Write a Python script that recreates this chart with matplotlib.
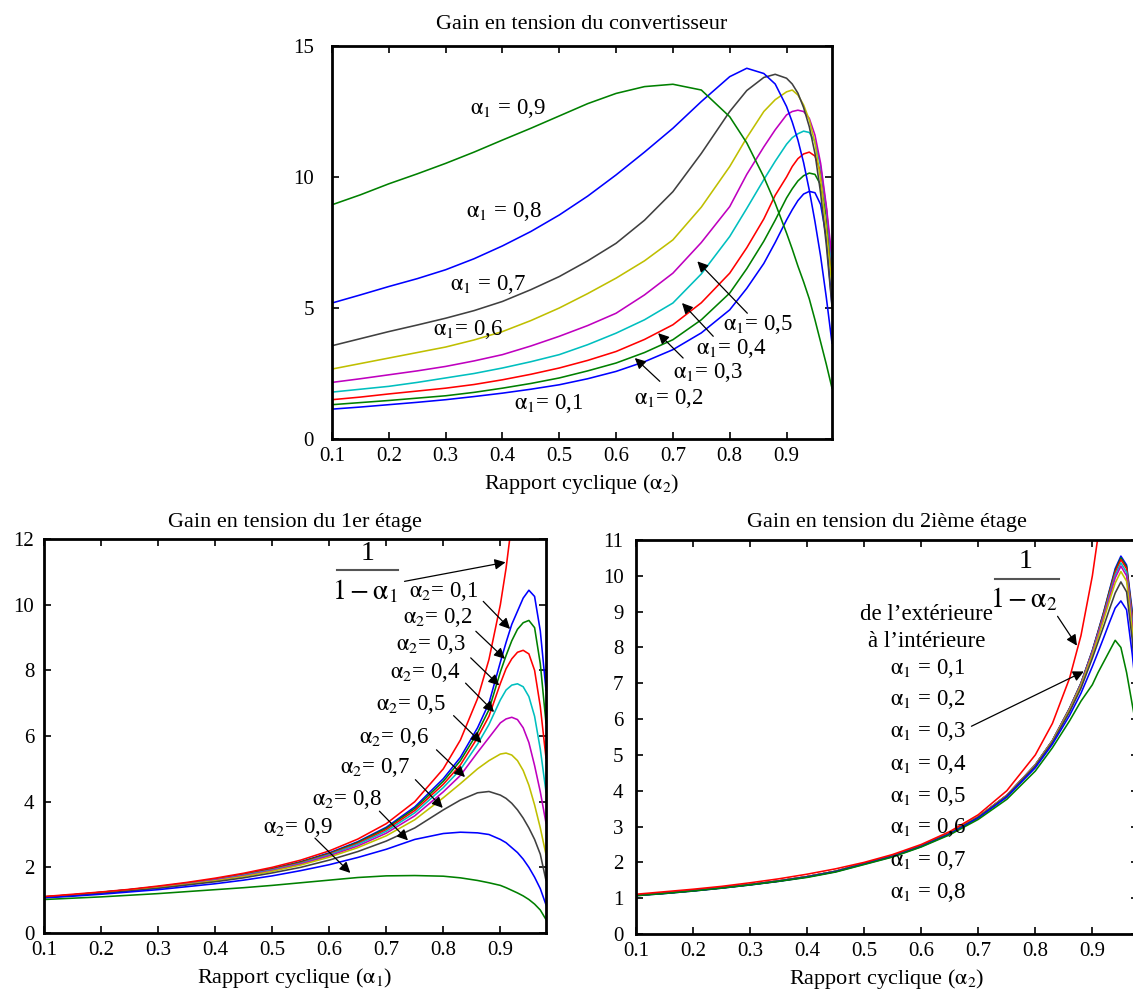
import matplotlib
matplotlib.use("Agg")
import matplotlib.pyplot as plt

plt.rcParams['font.family'] = ['Liberation Serif', 'DejaVu Serif']
plt.rcParams['mathtext.fontset'] = 'stix'

# ---------------- data ----------------
X = [0.10, 0.15, 0.20, 0.25, 0.30, 0.35, 0.40, 0.45, 0.50, 0.55, 0.60, 0.65, 0.70, 0.75,
     0.80, 0.83, 0.86, 0.88, 0.90, 0.91, 0.92, 0.93, 0.94, 0.95, 0.96, 0.97, 0.98]

# Top: converter gain vs alpha2 for alpha1 = 0.1 ... 0.9
alpha1_values = ["0,1", "0,2", "0,3", "0,4", "0,5", "0,6", "0,7", "0,8", "0,9"]
top_a1_01 = [1.14, 1.22, 1.31, 1.40, 1.50, 1.62, 1.75, 1.90, 2.07, 2.30, 2.58, 2.95, 3.41, 4.05,
             4.93, 5.75, 6.70, 7.50, 8.36, 8.75, 9.10, 9.35, 9.45, 9.40, 8.95, 7.70, 5.10]
top_a1_02 = [1.31, 1.39, 1.47, 1.56, 1.65, 1.78, 1.94, 2.12, 2.33, 2.60, 2.90, 3.30, 3.79, 4.55,
             5.57, 6.50, 7.55, 8.35, 9.20, 9.55, 9.85, 10.05, 10.15, 10.10, 9.70, 8.50, 6.10]
top_a1_03 = [1.50, 1.60, 1.72, 1.83, 1.94, 2.08, 2.26, 2.47, 2.71, 3.00, 3.34, 3.80, 4.36, 5.20,
             6.33, 7.30, 8.40, 9.30, 10.00, 10.40, 10.70, 10.88, 10.95, 10.80, 10.20, 8.80, 6.40]
top_a1_04 = [1.79, 1.90, 2.01, 2.16, 2.33, 2.50, 2.71, 2.95, 3.22, 3.60, 4.04, 4.55, 5.19, 6.30,
             7.73, 8.80, 9.90, 10.60, 11.25, 11.50, 11.65, 11.75, 11.70, 11.35, 10.40, 8.80, 6.60]
top_a1_05 = [2.16, 2.30, 2.45, 2.60, 2.77, 2.98, 3.22, 3.55, 3.92, 4.33, 4.80, 5.50, 6.33, 7.50,
             8.87, 10.10, 11.15, 11.80, 12.37, 12.50, 12.55, 12.50, 12.24, 11.60, 10.52, 8.90, 6.90]
top_a1_06 = [2.67, 2.88, 3.09, 3.30, 3.51, 3.78, 4.10, 4.52, 5.00, 5.55, 6.14, 6.80, 7.60, 8.85,
             10.40, 11.50, 12.50, 12.95, 13.25, 13.32, 13.13, 12.75, 12.18, 11.30, 9.89, 8.00, 5.82]
top_a1_07 = [3.56, 3.83, 4.10, 4.35, 4.61, 4.90, 5.25, 5.70, 6.20, 6.80, 7.47, 8.35, 9.44, 10.90,
             12.50, 13.30, 13.80, 13.92, 13.77, 13.55, 13.20, 12.65, 11.92, 10.90, 9.38, 7.40, 5.06]
top_a1_08 = [5.19, 5.50, 5.82, 6.12, 6.46, 6.88, 7.37, 7.92, 8.55, 9.27, 10.08, 10.95, 11.86, 12.88,
             13.83, 14.15, 13.95, 13.55, 12.69, 12.10, 11.41, 10.55, 9.50, 8.30, 6.97, 5.40, 3.66]
top_a1_09 = [8.94, 9.32, 9.74, 10.12, 10.52, 10.95, 11.41, 11.86, 12.33, 12.80, 13.19, 13.45, 13.54, 13.32,
             12.30, 11.30, 10.00, 9.00, 7.86, 7.25, 6.60, 6.00, 5.35, 4.55, 3.70, 2.85, 1.94]
top_series = [top_a1_01, top_a1_02, top_a1_03, top_a1_04, top_a1_05,
              top_a1_06, top_a1_07, top_a1_08, top_a1_09]

# Ideal gain 1/(1-alpha)
X_IDEAL = [0.10, 0.15, 0.20, 0.25, 0.30, 0.35, 0.40, 0.45, 0.50, 0.55, 0.60, 0.65, 0.70, 0.75,
           0.80, 0.83, 0.86, 0.88, 0.90, 0.91, 0.92]
ideal_gain = [1.11, 1.18, 1.25, 1.33, 1.43, 1.54, 1.67, 1.82, 2.00, 2.22, 2.50, 2.86, 3.33, 4.00,
              5.00, 5.88, 7.14, 8.33, 10.00, 11.11, 12.50]

# Bottom left: 1st stage gain vs alpha1 for alpha2 = 0.1 ... 0.9
alpha2_values = ["0,1", "0,2", "0,3", "0,4", "0,5", "0,6", "0,7", "0,8", "0,9"]
bl_a2_01 = [1.10, 1.16, 1.24, 1.32, 1.41, 1.52, 1.64, 1.79, 1.96, 2.17, 2.44, 2.78, 3.22, 3.84,
            4.70, 5.35, 6.25, 7.00, 8.25, 8.85, 9.40, 9.80, 10.20, 10.44, 10.25, 9.20, 7.40]
bl_a2_02 = [1.10, 1.16, 1.24, 1.32, 1.41, 1.51, 1.63, 1.78, 1.95, 2.16, 2.42, 2.76, 3.19, 3.79,
            4.62, 5.25, 6.10, 6.80, 7.95, 8.45, 8.90, 9.25, 9.45, 9.52, 9.30, 8.20, 6.40]
bl_a2_03 = [1.10, 1.16, 1.23, 1.31, 1.40, 1.51, 1.63, 1.77, 1.94, 2.14, 2.40, 2.73, 3.15, 3.73,
            4.53, 5.12, 5.95, 6.60, 7.60, 8.05, 8.35, 8.55, 8.61, 8.50, 8.00, 6.90, 5.33]
bl_a2_04 = [1.09, 1.15, 1.23, 1.31, 1.40, 1.50, 1.62, 1.76, 1.92, 2.12, 2.38, 2.70, 3.10, 3.66,
            4.43, 4.98, 5.75, 6.35, 7.10, 7.40, 7.55, 7.59, 7.50, 7.20, 6.60, 5.60, 4.30]
bl_a2_05 = [1.09, 1.15, 1.22, 1.30, 1.39, 1.49, 1.61, 1.74, 1.90, 2.10, 2.35, 2.65, 3.04, 3.57,
            4.30, 4.80, 5.50, 5.95, 6.40, 6.52, 6.57, 6.50, 6.25, 5.80, 5.10, 4.30, 3.35]
bl_a2_06 = [1.09, 1.15, 1.22, 1.30, 1.38, 1.48, 1.59, 1.72, 1.88, 2.07, 2.31, 2.60, 2.96, 3.45,
            4.12, 4.55, 5.00, 5.25, 5.45, 5.48, 5.42, 5.25, 4.95, 4.50, 3.90, 3.20, 2.39]
bl_a2_07 = [1.08, 1.14, 1.21, 1.28, 1.36, 1.46, 1.56, 1.68, 1.83, 2.00, 2.22, 2.48, 2.80, 3.20,
            3.75, 4.05, 4.27, 4.31, 4.20, 4.10, 3.95, 3.75, 3.50, 3.20, 2.85, 2.40, 1.60]
bl_a2_08 = [1.07, 1.12, 1.18, 1.25, 1.32, 1.41, 1.50, 1.61, 1.74, 1.90, 2.08, 2.30, 2.55, 2.85,
            3.03, 3.07, 3.05, 3.00, 2.85, 2.75, 2.60, 2.45, 2.25, 2.00, 1.70, 1.35, 0.86]
bl_a2_09 = [1.02, 1.06, 1.10, 1.15, 1.20, 1.26, 1.32, 1.38, 1.45, 1.53, 1.61, 1.69, 1.74, 1.75,
            1.73, 1.68, 1.60, 1.53, 1.45, 1.38, 1.30, 1.22, 1.13, 1.02, 0.88, 0.70, 0.41]
bl_series = [bl_a2_01, bl_a2_02, bl_a2_03, bl_a2_04, bl_a2_05,
             bl_a2_06, bl_a2_07, bl_a2_08, bl_a2_09]

# Bottom right: 2nd stage gain vs alpha2 for alpha1 = 0.1 ... 0.9
br_a1_01 = [1.08, 1.14, 1.21, 1.29, 1.38, 1.48, 1.60, 1.75, 1.97, 2.18, 2.46, 2.82, 3.27, 3.87,
            4.72, 5.40, 6.30, 7.00, 7.92, 8.45, 9.00, 9.60, 10.20, 10.55, 10.30, 9.00, 6.80]
br_a1_02 = [1.08, 1.14, 1.21, 1.29, 1.38, 1.48, 1.60, 1.75, 1.97, 2.18, 2.46, 2.82, 3.27, 3.87,
            4.72, 5.40, 6.30, 7.00, 7.90, 8.43, 8.98, 9.57, 10.15, 10.50, 10.25, 8.90, 6.70]
br_a1_03 = [1.08, 1.14, 1.21, 1.29, 1.38, 1.48, 1.60, 1.75, 1.97, 2.18, 2.46, 2.82, 3.27, 3.87,
            4.72, 5.40, 6.29, 6.99, 7.89, 8.41, 8.95, 9.53, 10.10, 10.45, 10.20, 8.85, 6.60]
br_a1_04 = [1.08, 1.14, 1.21, 1.29, 1.38, 1.48, 1.60, 1.75, 1.97, 2.18, 2.46, 2.82, 3.27, 3.87,
            4.72, 5.40, 6.28, 6.98, 7.87, 8.38, 8.90, 9.47, 10.02, 10.36, 10.10, 8.75, 6.50]
br_a1_05 = [1.08, 1.14, 1.21, 1.29, 1.38, 1.48, 1.60, 1.75, 1.97, 2.18, 2.46, 2.82, 3.27, 3.87,
            4.72, 5.39, 6.27, 6.96, 7.85, 8.35, 8.86, 9.40, 9.94, 10.27, 10.00, 8.65, 6.40]
br_a1_06 = [1.08, 1.14, 1.21, 1.29, 1.38, 1.48, 1.60, 1.75, 1.97, 2.18, 2.46, 2.82, 3.27, 3.86,
            4.71, 5.38, 6.25, 6.93, 7.80, 8.28, 8.78, 9.30, 9.80, 10.12, 9.85, 8.50, 6.30]
br_a1_07 = [1.08, 1.14, 1.21, 1.29, 1.38, 1.48, 1.60, 1.75, 1.97, 2.18, 2.46, 2.81, 3.26, 3.85,
            4.69, 5.35, 6.20, 6.86, 7.70, 8.15, 8.60, 9.07, 9.52, 9.83, 9.55, 8.20, 6.00]
br_a1_08 = [1.07, 1.13, 1.20, 1.28, 1.37, 1.47, 1.59, 1.74, 1.95, 2.16, 2.44, 2.79, 3.24, 3.82,
            4.64, 5.30, 6.10, 6.72, 7.47, 7.87, 8.28, 8.70, 9.10, 9.30, 9.05, 7.80, 6.30]
br_a1_09 = [1.07, 1.13, 1.20, 1.28, 1.37, 1.47, 1.58, 1.73, 1.94, 2.15, 2.43, 2.77, 3.20, 3.76,
            4.55, 5.20, 5.95, 6.50, 6.96, 7.30, 7.60, 7.90, 8.20, 8.00, 7.30, 6.40, 5.50]
br_series = [br_a1_01, br_a1_02, br_a1_03, br_a1_04, br_a1_05,
             br_a1_06, br_a1_07, br_a1_08, br_a1_09]

x_ticks = [0.1, 0.2, 0.3, 0.4, 0.5, 0.6, 0.7, 0.8, 0.9]

# ---------------- styling ----------------
COLORS = ['#0000ff', '#008000', '#ff0000', '#00bfbf', '#bf00bf',
          '#bfbf00', '#404040', '#0000ff', '#008000']
LW = 1.15
FS_TICK = 15
FS_LAB = 16
FS_ANN = 16.5
FS_FRAC = 20

fig = plt.figure(figsize=(11.33, 9.98), dpi=100)
W, H = 1133.0, 998.0
ax_top = fig.add_axes([332 / W, 1 - 439 / H, 500 / W, 393 / H])
ax_bl = fig.add_axes([44 / W, 1 - 933 / H, 502 / W, 394 / H])
ax_br = fig.add_axes([636 / W, 1 - 934 / H, 502 / W, 394 / H])


def style(ax, ylim, yticks, ypad, title, xlabel, tpad):
    ax.set_xlim(0.1, 0.98)
    ax.set_ylim(*ylim)
    ax.set_xticks(x_ticks)
    ax.set_yticks(yticks)
    ax.tick_params(direction='in', top=True, right=True, length=5, width=1.2,
                   labelsize=FS_TICK)
    ax.tick_params(axis='x', pad=6)
    ax.tick_params(axis='y', pad=ypad)
    for s in ax.spines.values():
        s.set_linewidth(2.0)
    ax.set_title(title, fontsize=FS_LAB, pad=tpad)
    ax.set_xlabel(xlabel, fontsize=FS_LAB, labelpad=4)


def arrow(ax, start, tip):
    ax.annotate('', xy=tip, xytext=start,
                arrowprops=dict(arrowstyle='-|>', color='k', lw=0.9,
                                mutation_scale=16, shrinkA=0, shrinkB=0))


def alab(sub, val, gap=''):
    return r'$\mathrm{\alpha}_%s$%s= %s' % (sub, gap, val)


# ---- top panel ----
for ys, c in zip(top_series, COLORS):
    ax_top.plot(X, ys, color=c, lw=LW)
style(ax_top, (0, 15), [0, 5, 10, 15], 13, 'Gain en tension du convertisseur',
      r'Rapport cyclique ($\mathrm{\alpha}_2$)', 12)

ax_top.text(0.41, 12.62, alab(1, alpha1_values[8], ' '), fontsize=FS_ANN, ha='center', va='center')
ax_top.text(0.403, 8.68, alab(1, alpha1_values[7], ' '), fontsize=FS_ANN, ha='center', va='center')
ax_top.text(0.375, 5.89, alab(1, alpha1_values[6], ' '), fontsize=FS_ANN, ha='center', va='center')
ax_top.text(0.34, 4.17, alab(1, alpha1_values[5]), fontsize=FS_ANN, ha='center', va='center')
ax_top.text(0.482, 1.37, alab(1, alpha1_values[0]), fontsize=FS_ANN, ha='center', va='center')
ax_top.text(0.85, 4.36, alab(1, alpha1_values[4]), fontsize=FS_ANN, ha='center', va='center')
arrow(ax_top, (0.831, 4.8), (0.743, 6.78))
ax_top.text(0.803, 3.47, alab(1, alpha1_values[3]), fontsize=FS_ANN, ha='center', va='center')
arrow(ax_top, (0.771, 3.92), (0.716, 5.19))
ax_top.text(0.762, 2.52, alab(1, alpha1_values[2]), fontsize=FS_ANN, ha='center', va='center')
arrow(ax_top, (0.718, 3.09), (0.674, 4.04))
ax_top.text(0.692, 1.56, alab(1, alpha1_values[1]), fontsize=FS_ANN, ha='center', va='center')
arrow(ax_top, (0.677, 2.2), (0.633, 3.09))

# ---- bottom left ----
for ys, c in zip(bl_series, COLORS):
    ax_bl.plot(X, ys, color=c, lw=LW)
ax_bl.plot(X_IDEAL, ideal_gain, color='#ff0000', lw=LW)
style(ax_bl, (0, 12), [0, 2, 4, 6, 8, 10, 12], 7, 'Gain en tension du 1er étage',
      r'Rapport cyclique ($\mathrm{\alpha}_1$)', 9)

ax_bl.text(0.668, 11.57, '1', fontsize=FS_FRAC, ha='center', va='center')
ax_bl.plot([0.613, 0.72], [11.05, 11.05], color='#555555', lw=1.5)
ax_bl.text(0.663, 10.4, r'$1-\mathrm{\alpha}_1$', fontsize=FS_FRAC, ha='center', va='center')
arrow(ax_bl, (0.732, 10.71), (0.909, 11.29))

bl_text = [(0.80, 10.4), (0.79, 9.6), (0.779, 8.78), (0.768, 7.92), (0.743, 6.95),
           (0.713, 5.94), (0.68, 5.03), (0.631, 4.08), (0.545, 3.2)]
bl_start = [(0.87, 10.1), (0.857, 9.19), (0.848, 8.38), (0.839, 7.61), (0.818, 6.62),
            (0.788, 5.58), (0.751, 4.67), (0.688, 3.71), (0.575, 2.89)]
bl_tip = [(0.917, 9.26), (0.908, 8.35), (0.898, 7.54), (0.889, 6.73), (0.867, 5.79),
          (0.838, 4.75), (0.799, 3.81), (0.738, 2.82), (0.637, 1.83)]
for v, t, s, p in zip(alpha2_values, bl_text, bl_start, bl_tip):
    ax_bl.text(t[0], t[1], alab(2, v), fontsize=FS_ANN, ha='center', va='center')
    arrow(ax_bl, s, p)

# ---- bottom right ----
for ys, c in zip(br_series, COLORS):
    ax_br.plot(X, ys, color=c, lw=LW)
ax_br.plot(X_IDEAL, ideal_gain, color='#ff0000', lw=LW)
style(ax_br, (0, 11), list(range(0, 12)), 9, 'Gain en tension du 2ième étage',
      r'Rapport cyclique ($\mathrm{\alpha}_2$)', 9)

ax_br.text(0.783, 10.4, '1', fontsize=FS_FRAC, ha='center', va='center')
ax_br.plot([0.729, 0.842], [9.92, 9.92], color='#555555', lw=1.5)
ax_br.text(0.779, 9.33, r'$1-\mathrm{\alpha}_2$', fontsize=FS_FRAC, ha='center', va='center')
arrow(ax_br, (0.839, 8.87), (0.873, 8.05))

ax_br.text(0.609, 8.91, 'de l\u2019extérieure', fontsize=FS_ANN, ha='center', va='center')
ax_br.text(0.609, 8.17, 'à l\u2019intérieure', fontsize=FS_ANN, ha='center', va='center')
br_label_y = [7.42, 6.54, 5.66, 4.74, 3.84, 2.96, 2.06, 1.16]
for v, yv in zip(alpha1_values[:8], br_label_y):
    ax_br.text(0.612, yv, r'$\mathrm{\alpha}_1$ = %s' % v, fontsize=FS_ANN,
               ha='center', va='center')
arrow(ax_br, (0.688, 5.8), (0.885, 7.33))

fig.savefig('out.png', dpi=100)
